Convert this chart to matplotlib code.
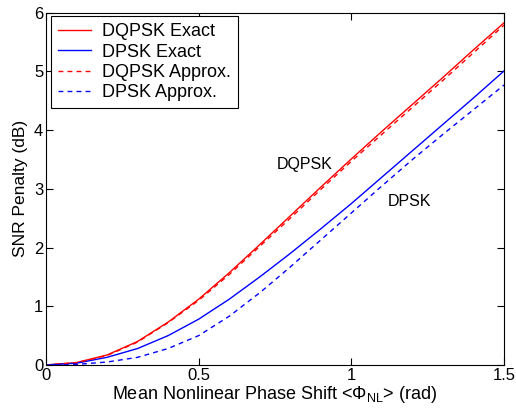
import matplotlib
matplotlib.use("Agg")
import matplotlib.pyplot as plt

plt.rcParams['font.family'] = ['Liberation Sans', 'DejaVu Sans']
plt.rcParams['mathtext.fontset'] = 'custom'
plt.rcParams['mathtext.rm'] = 'Liberation Sans'
plt.rcParams['mathtext.it'] = 'Liberation Sans'

# mean nonlinear phase shift (rad)
phase = [0, 0.1, 0.2, 0.3, 0.4, 0.5, 0.6, 0.7, 0.8, 0.9, 1.0, 1.1, 1.2, 1.3, 1.4, 1.5]

# SNR penalty (dB)
dqpsk_exact = [0, 0.04, 0.17, 0.40, 0.73, 1.12, 1.57, 2.05, 2.54, 3.03, 3.51, 3.98, 4.44, 4.90, 5.37, 5.83]
dpsk_exact = [0, 0.03, 0.13, 0.28, 0.50, 0.78, 1.12, 1.50, 1.90, 2.32, 2.75, 3.20, 3.65, 4.10, 4.55, 5.01]
dqpsk_approx = [0, 0.04, 0.16, 0.39, 0.72, 1.10, 1.54, 2.02, 2.50, 2.99, 3.47, 3.93, 4.39, 4.85, 5.32, 5.79]
dpsk_approx = [0, 0.01, 0.05, 0.13, 0.28, 0.50, 0.83, 1.23, 1.67, 2.13, 2.59, 3.05, 3.50, 3.93, 4.35, 4.77]

fig = plt.figure(figsize=(5.16, 4.11), dpi=100)
ax = fig.add_axes([0.089, 0.112, 0.888, 0.857])

ax.plot(phase, dqpsk_exact, color='red', lw=1.0, label='DQPSK Exact')
ax.plot(phase, dpsk_exact, color='blue', lw=1.0, label='DPSK Exact')
ax.plot(phase, dqpsk_approx, color='red', lw=1.0, dashes=(3.5, 3), label='DQPSK Approx.')
ax.plot(phase, dpsk_approx, color='blue', lw=1.0, dashes=(3.5, 3), label='DPSK Approx.')

ax.text(0.848, 3.42, 'DQPSK', fontsize=11.5, ha='center', va='center')
ax.text(1.19, 2.79, 'DPSK', fontsize=11.5, ha='center', va='center')

ax.set_xlim(0, 1.5)
ax.set_ylim(0, 6)
ax.set_xticks([0, 0.5, 1, 1.5])
ax.set_xticklabels(['0', '0.5', '1', '1.5'])
ax.set_yticks([0, 1, 2, 3, 4, 5, 6])
ax.tick_params(direction='in', top=True, right=True, labelsize=12, length=5, width=0.8, pad=2)
for s in ax.spines.values():
    s.set_linewidth(0.8)

ax.set_xlabel(r'Mean Nonlinear Phase Shift <$\Phi_{\rm NL}$> (rad)', fontsize=13, labelpad=1)
ax.set_ylabel('SNR Penalty (dB)', fontsize=12.5, labelpad=4)

leg = ax.legend(loc='upper left', bbox_to_anchor=(0.011, 0.99), fontsize=13,
                frameon=True, fancybox=False, edgecolor='black', framealpha=1,
                handlelength=1.8, handletextpad=0.6, borderpad=0.4,
                labelspacing=0.18, borderaxespad=0)
leg.get_frame().set_linewidth(0.8)

fig.savefig('out.png', dpi=100)
